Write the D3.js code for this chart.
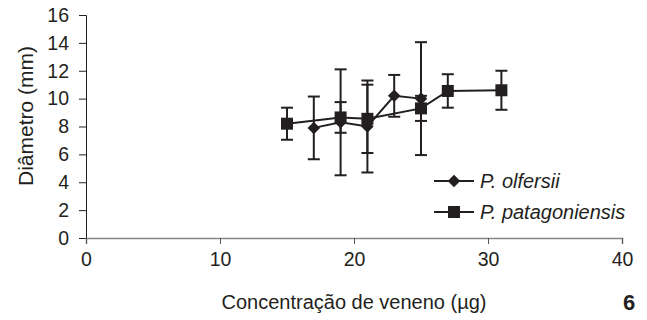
<!DOCTYPE html>
<html><head><meta charset="utf-8">
<script src="https://cdn.jsdelivr.net/npm/d3@7"></script>
<style>body{margin:0;background:#fff}</style>
</head><body>
<svg id="c" width="647" height="320"></svg>
<script>
const olfX = [17, 19, 21, 23, 25];
const olfY = [7.9, 8.3, 8.0, 10.2, 10.0];
const olfErr = [2.25, 3.8, 3.3, 1.5, 4.05];
const patX = [15, 19, 21, 25, 27, 31];
const patY = [8.2, 8.65, 8.55, 9.3, 10.55, 10.6];
const patErr = [1.15, 1.1, 2.45, 0.9, 1.2, 1.4];
const xTicks = [0, 10, 20, 30, 40];
const yTicks = [0, 2, 4, 6, 8, 10, 12, 14, 16];

const svg = d3.select("#c");
const x = d3.scaleLinear().domain([0, 40]).range([86, 622]);
const y = d3.scaleLinear().domain([0, 16]).range([238, 15]);
const font = "Liberation Sans, Arial, sans-serif";
const txt = "#231f20";

// axes
const yAxis = svg.append("g").attr("transform", "translate(86,0)")
  .call(d3.axisLeft(y).tickValues(yTicks).tickSize(7).tickPadding(10));
yAxis.select(".domain").attr("stroke", "#222");
yAxis.selectAll(".tick line").attr("stroke", "#222");
yAxis.selectAll("text").attr("font-family", font).attr("font-size", 19.5).attr("fill", txt);

const xAxis = svg.append("g").attr("transform", "translate(0,238)")
  .call(d3.axisBottom(x).tickValues(xTicks).tickSize(6).tickPadding(8));
xAxis.select(".domain").attr("stroke", "#888").attr("stroke-width", 1.5);
xAxis.selectAll(".tick line").attr("stroke", "#555");
xAxis.selectAll("text").attr("font-family", font).attr("font-size", 19.5).attr("fill", txt);

// titles
svg.append("text").attr("x", 354).attr("y", 309).attr("text-anchor", "middle")
  .attr("font-family", font).attr("font-size", 20).attr("fill", txt)
  .text("Concentração de veneno (µg)");
svg.append("text").attr("x", 629).attr("y", 310).attr("text-anchor", "middle")
  .attr("font-family", font).attr("font-size", 22).attr("font-weight", "bold").attr("fill", txt)
  .text("6");
svg.append("text").attr("transform", "translate(33,116) rotate(-90)").attr("text-anchor", "middle")
  .attr("font-family", font).attr("font-size", 21).attr("fill", txt)
  .text("Diâmetro (mm)");

const col = "#231f20";
function drawSeries(xs, ys, es, sym) {
  const pts = xs.map((v, i) => ({x: v, y: ys[i], e: es[i]}));
  const g = svg.append("g");
  g.append("path").datum(pts)
    .attr("d", d3.line().x(d => x(d.x)).y(d => y(d.y)))
    .attr("fill", "none").attr("stroke", col).attr("stroke-width", 2);
  pts.forEach(d => {
    const cx = x(d.x);
    g.append("line").attr("x1", cx).attr("x2", cx).attr("y1", y(d.y - d.e)).attr("y2", y(d.y + d.e))
      .attr("stroke", col).attr("stroke-width", 2);
    [d.y - d.e, d.y + d.e].forEach(v => {
      g.append("line").attr("x1", cx - 6).attr("x2", cx + 6).attr("y1", y(v)).attr("y2", y(v))
        .attr("stroke", col).attr("stroke-width", 2);
    });
  });
  g.selectAll("path.sym").data(pts).enter().append("path")
    .attr("transform", d => `translate(${x(d.x)},${y(d.y)})`)
    .attr("d", d3.symbol().type(sym).size(sym === d3.symbolSquare ? 144 : 100))
    .attr("fill", col);
}
drawSeries(olfX, olfY, olfErr, d3.symbolDiamond2);
drawSeries(patX, patY, patErr, d3.symbolSquare);

// legend
const leg = [{name: "P. olfersii", sym: d3.symbolDiamond2, size: 100, yy: 181},
             {name: "P. patagoniensis", sym: d3.symbolSquare, size: 144, yy: 212}];
leg.forEach(l => {
  svg.append("line").attr("x1", 434).attr("x2", 474).attr("y1", l.yy).attr("y2", l.yy)
    .attr("stroke", col).attr("stroke-width", 2);
  svg.append("path").attr("transform", `translate(454,${l.yy})`)
    .attr("d", d3.symbol().type(l.sym).size(l.size)).attr("fill", col);
  svg.append("text").attr("x", 480).attr("y", l.yy + 7).attr("font-family", font)
    .attr("font-size", 20).attr("font-style", "italic").attr("fill", txt).text(l.name);
});
</script>
</body></html>
